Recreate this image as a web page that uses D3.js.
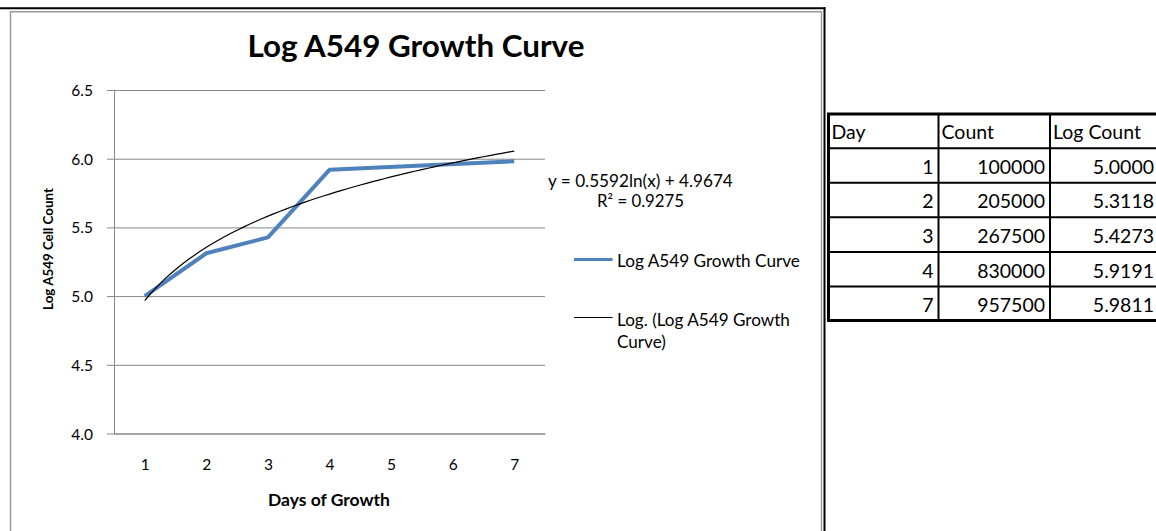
<!DOCTYPE html>
<html>
<head>
<meta charset="utf-8">
<script src="https://cdn.jsdelivr.net/npm/d3@7"></script>
<style>
  body { margin: 0; background: #fff; }
  svg text { font-family: Lato, Carlito, sans-serif; fill: #000; }
</style>
</head>
<body>
<div id="stage"></div>
<script>
// data
var days = [1, 2, 3, 4, 7];
var counts = [100000, 205000, 267500, 830000, 957500];
var log_counts = [5.0000, 5.3118, 5.4273, 5.9191, 5.9811];
var x_ticks = [1, 2, 3, 4, 5, 6, 7];
var y_ticks = [4.0, 4.5, 5.0, 5.5, 6.0, 6.5];
var trend_coef = [0.5592, 4.9674]; // y = a ln(x) + b, from the chart label
var trend_r2 = 0.9275;
var table_head = ["Day", "Count", "Log Count"];

var stage_width = 1156;
var stage_height = 531;

draw_chart();

//scale font so the text is as wide as in the original
function fit_width(t, w) {
  var cur = parseFloat(t.style("font-size"));
  t.style("font-size", (cur * w / t.node().getComputedTextLength()).toFixed(2) + "px");
  return t;
}

function draw_chart() {
  var svg = d3.select("#stage")
    .append("svg")
    .attr("width", stage_width)
    .attr("height", stage_height);

  //frame lines around the chart object
  svg.append("line").attr("x1", 0).attr("x2", 825.5).attr("y1", 8.3).attr("y2", 8.3)
    .attr("stroke", "#000").attr("stroke-width", 2);
  svg.append("line").attr("x1", 824.5).attr("x2", 824.5).attr("y1", 7.3).attr("y2", stage_height)
    .attr("stroke", "#000").attr("stroke-width", 2);
  svg.append("path")
    .attr("d", "M10.5," + stage_height + "V11.8H821.5V" + stage_height)
    .attr("fill", "none").attr("stroke", "#9a9a9a").attr("stroke-width", 1.5);

  var x = d3.scaleLinear().domain([0.5, 7.5]).range([114, 545]);
  var y = d3.scaleLinear().domain([4, 6.5]).range([433.5, 90]);

  // gridlines
  svg.append("g")
    .attr("transform", "translate(114,0)")
    .call(d3.axisLeft(y).tickValues(y_ticks).tickSize(-431).tickFormat(""))
    .call(function(g) {
      g.select(".domain").remove();
      g.selectAll("line").attr("stroke", "#868686").attr("stroke-width", 1);
    });

  // y axis
  svg.append("g")
    .attr("transform", "translate(114,0)")
    .call(d3.axisLeft(y).tickValues(y_ticks).tickSize(7).tickSizeOuter(0).tickPadding(14)
      .tickFormat(d3.format(".1f")))
    .call(function(g) {
      g.select(".domain").attr("stroke", "#868686");
      g.selectAll("line").attr("stroke", "#868686");
      g.selectAll("text").style("font-size", "15.5px").attr("dy", "0.36em");
    });

  // x axis
  svg.append("g")
    .attr("transform", "translate(0,433.5)")
    .call(d3.axisBottom(x).tickValues(x_ticks).tickSize(0).tickSizeOuter(0).tickPadding(25)
      .tickFormat(d3.format("d")))
    .call(function(g) {
      g.select(".domain").attr("stroke", "#868686");
      g.selectAll("text").style("font-size", "15.5px");
    });

  // trendline from the fitted equation
  var trend_pts = d3.range(0, 61).map(function(i) {
    var d = 1 + i * 0.1;
    return [d, trend_coef[0] * Math.log(d) + trend_coef[1]];
  });

  var series = days.map(function(d, i) { return [d, log_counts[i]]; });
  var line = d3.line()
    .x(function(d) { return x(d[0]); })
    .y(function(d) { return y(d[1]); });

  svg.append("path")
    .datum(series)
    .attr("d", line)
    .attr("fill", "none")
    .attr("stroke", "#4f81bd")
    .attr("stroke-width", 4)
    .attr("stroke-linejoin", "round");

  svg.append("path")
    .datum(trend_pts)
    .attr("d", line)
    .attr("fill", "none")
    .attr("stroke", "#000")
    .attr("stroke-width", 1.2);

  // titles
  fit_width(svg.append("text")
    .attr("x", 416).attr("y", 57)
    .attr("text-anchor", "middle")
    .style("font-size", "30px").style("font-weight", "bold")
    .text("Log A549 Growth Curve"), 337);

  fit_width(svg.append("text")
    .attr("transform", "translate(53,249) rotate(-90)")
    .attr("text-anchor", "middle")
    .style("font-size", "13px").style("font-weight", "bold")
    .text("Log A549 Cell Count"), 122);

  fit_width(svg.append("text")
    .attr("x", 329).attr("y", 506)
    .attr("text-anchor", "middle")
    .style("font-size", "16px").style("font-weight", "bold")
    .text("Days of Growth"), 122);

  // equation label
  fit_width(svg.append("text")
    .attr("x", 548).attr("y", 187)
    .style("font-size", "15px")
    .text("y = " + trend_coef[0] + "ln(x) + " + trend_coef[1]), 185);
  fit_width(svg.append("text")
    .attr("x", 597).attr("y", 207)
    .style("font-size", "15px")
    .text("R\u00b2 = " + trend_r2), 87);

  // legend
  var legend = [
    { label: ["Log A549 Growth Curve"], fit: 183, color: "#4f81bd", w: 3, y: 259.5, base: 267 },
    { label: ["Log. (Log A549 Growth", "Curve)"], fit: 173, color: "#000", w: 1, y: 317.5, base: 326 }
  ];
  var lg = svg.selectAll(".leg").data(legend).enter().append("g").attr("class", "leg");
  lg.append("line")
    .attr("x1", 574).attr("x2", 612.5)
    .attr("y1", function(d) { return d.y; }).attr("y2", function(d) { return d.y; })
    .attr("stroke", function(d) { return d.color; })
    .attr("stroke-width", function(d) { return d.w; });
  lg.each(function(d) {
    var g = d3.select(this);
    var fs = 16;
    d.label.forEach(function(t, i) {
      var tx = g.append("text")
        .attr("x", 617).attr("y", d.base + i * 22)
        .style("font-size", fs + "px")
        .text(t);
      if (i === 0) {
        fit_width(tx, d.fit);
        fs = parseFloat(tx.style("font-size"));
      }
    });
  });

  // data table
  var col_x = [828.5, 938.5, 1050, 1159];
  var row_y = [114, 148.3, 182.8, 217.3, 252, 286.5, 320.5];
  var rows = [table_head].concat(days.map(function(d, i) {
    return [d, counts[i], log_counts[i].toFixed(4)];
  }));

  var tbl = svg.append("g");
  rows.forEach(function(r, ri) {
    r.forEach(function(v, ci) {
      var right = ri > 0;
      tbl.append("text")
        .attr("x", right ? col_x[ci + 1] - 5 : col_x[ci] + 3)
        .attr("y", row_y[ri + 1] - 9)
        .attr("text-anchor", right ? "end" : "start")
        .style("font-size", "19.5px")
        .text(v);
    });
  });
  row_y.forEach(function(yy, i) {
    var edge = i === 0 || i === row_y.length - 1;
    tbl.append("line")
      .attr("x1", col_x[0] - 1.5).attr("x2", stage_width)
      .attr("y1", yy).attr("y2", yy)
      .attr("stroke", "#000").attr("stroke-width", edge ? 3 : 2);
  });
  col_x.slice(0, 3).forEach(function(xx, i) {
    tbl.append("line")
      .attr("x1", xx).attr("x2", xx)
      .attr("y1", row_y[0]).attr("y2", row_y[row_y.length - 1])
      .attr("stroke", "#000").attr("stroke-width", i === 0 ? 3 : 2);
  });
}
</script>
</body>
</html>
